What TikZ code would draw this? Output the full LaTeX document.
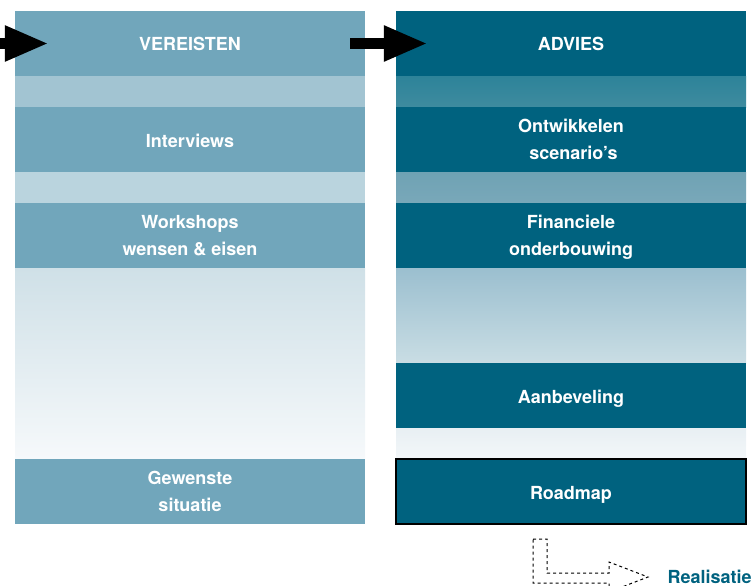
\documentclass[tikz,border=0pt]{standalone}
\usepackage{fontspec}
\setmainfont{TeX Gyre Heros}
\usetikzlibrary{arrows.meta}

\definecolor{lichtblauw}{HTML}{71A6BB}
\definecolor{donkerblauw}{HTML}{00627F}
\definecolor{strookA}{HTML}{A2C4D2}
\definecolor{strookB}{HTML}{BAD4DE}
\definecolor{vlakboven}{HTML}{CFE0E7}
\definecolor{vlakonder}{HTML}{F6F9FB}
\definecolor{tealA}{HTML}{2D8399}
\definecolor{tealB}{HTML}{3E8B9F}
\definecolor{tealC}{HTML}{6FA2B4}
\definecolor{tealD}{HTML}{79A8B9}
\definecolor{tealE}{HTML}{9BBFCF}
\definecolor{tealF}{HTML}{C9DDE4}
\definecolor{tealG}{HTML}{E8EFF3}
\definecolor{tealH}{HTML}{F3F7F9}

\begin{document}
\begin{tikzpicture}[x=1pt,y=-1pt,
		box/.style={minimum width=350pt,minimum height=65pt,inner sep=0pt,align=center,text=white,
			font=\bfseries\fontsize{18}{27.5}\selectfont},
		licht/.style={box,fill=lichtblauw},
		donker/.style={box,fill=donkerblauw},
		eenregel/.style={text height=15pt,text depth=0pt},
		tweeregels/.style={text depth=0pt,execute at begin node={\rule{0pt}{18pt}}},
		blokpijl/.style={line width=11pt,-{Triangle[length=44pt,width=33pt]}}]
				\useasboundingbox (0,0) rectangle (752,586);
				% tussenstroken
				\fill[strookA] (15,76) rectangle (365,107);
				\fill[strookB] (15,172) rectangle (365,203);
				\shade[top color=vlakboven,bottom color=vlakonder] (15,268) rectangle (365,459);
				\shade[top color=tealA,bottom color=tealB] (396,76) rectangle (746,107);
				\shade[top color=tealC,bottom color=tealD] (396,172) rectangle (746,203);
				\shade[top color=tealE,bottom color=tealF] (396,268) rectangle (746,363);
				\shade[top color=tealG,bottom color=tealH] (396,428) rectangle (746,459);
				% blokken
				\node[licht,eenregel] (ver) at (190,43.5) {VEREISTEN};
				\node[licht,eenregel] (int) at (190,139.5) {Interviews};
				\node[licht,tweeregels] (work) at (190,235.5) {Workshops\\wensen \& eisen};
				\node[licht,tweeregels] (gew) at (190,491.5) {Gewenste\\situatie};
				\node[donker,eenregel] (adv) at (571,43.5) {ADVIES};
				\node[donker,tweeregels] (ontw) at (571,139.5) {Ontwikkelen\\\ scenario's};
				\node[donker,tweeregels] (fin) at (571,235.5) {Financiele\\onderbouwing};
				\node[donker,eenregel] (aanb) at (571,395.5) {Aanbeveling};
				\node[donker,eenregel,draw=black,line width=1.5pt] (road) at (571,491.5) {Roadmap};
				\node[anchor=west,text=donkerblauw,font=\bfseries\fontsize{18}{20}\selectfont] (real) at (664,577) {Realisatie};
				% pijlen
				\coordinate (in) at (0,43.5);
				\draw[blokpijl] (in) -- ([xshift=34pt]ver.west);
				\draw[blokpijl] ([xshift=-15pt]ver.east) -- ([xshift=32pt]adv.west);
				\draw[dashed,line width=1pt] (533,539) -- (547,539) -- (547,573) -- (609,573) -- (609,562)
					-- (648,577) -- (609,592) -- (609,583) -- (533,583) -- cycle;
			\end{tikzpicture}
\end{document}
